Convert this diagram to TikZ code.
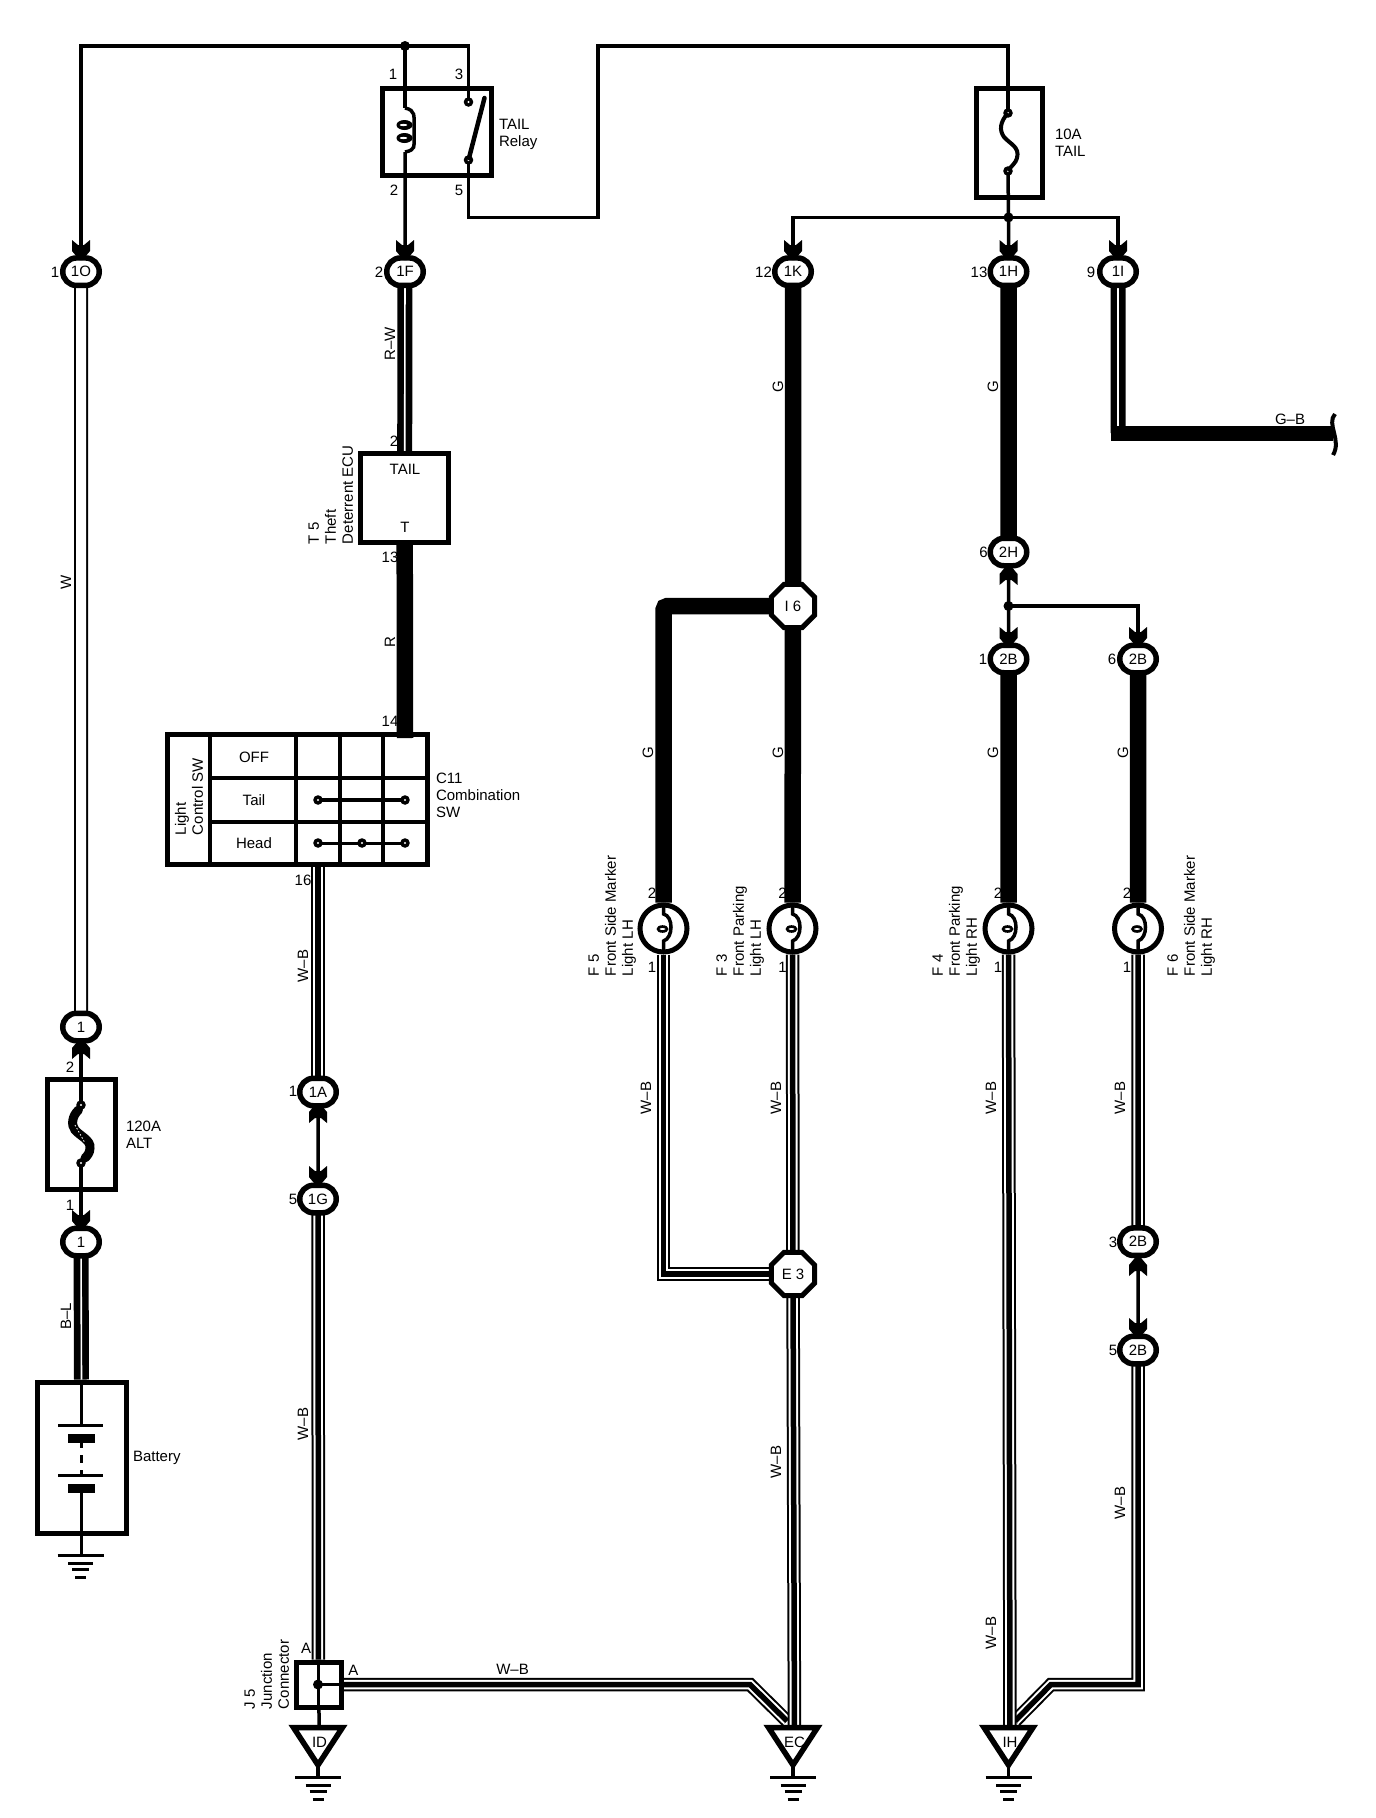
\documentclass[tikz,border=0pt]{standalone}
\usepackage{fontspec}
\setmainfont{Liberation Sans}
\usetikzlibrary{shapes.misc,shapes.geometric,backgrounds,calc}
\tikzset{
  txt/.style={inner sep=0pt,outer sep=0pt,font=\fontsize{15}{17}\selectfont},
  vlabel/.style={txt,rotate=90,align=left,anchor=south west},
  hlabel/.style={txt,align=left,anchor=west},
  ringc/.style={draw,fill=white,rounded rectangle,line width=5.5pt,minimum width=36.5pt,minimum height=27.5pt,inner sep=0pt,txt},
  octc/.style={draw,fill=white,regular polygon,regular polygon sides=8,line width=5pt,minimum size=47pt,inner sep=0pt,txt},
  lampc/.style={draw,fill=white,circle,line width=5pt,minimum size=47pt,inner sep=0pt},
  boxc/.style={draw,rectangle,line width=5pt,inner sep=0pt},
  thinw/.style={draw,line width=3.5pt},
  thinner/.style={draw,line width=3pt},
  gwire/.style={draw,line width=16.5pt},
  hollow/.style={draw,line width=14pt,postaction={draw,white,line width=10pt}},
  stripe/.style={draw,line width=15pt,postaction={draw,white,line width=1.6pt}},
  wbwire/.style={draw,line width=13.5pt,postaction={draw,white,line width=9.5pt},postaction={draw,black,line width=5.5pt}},
  cdown/.pic={\fill[black] (-9,0)--(-3,5)--(3,5)--(9,0)--(9,11)--(1.5,20)--(-1.5,20)--(-9,11)--cycle;},
  cup/.pic={\fill[black] (-9,0)--(-3,-5)--(3,-5)--(9,0)--(9,-11)--(1.5,-20)--(-1.5,-20)--(-9,-11)--cycle;},
}
% terminal dot with small white centre
\newcommand{\termdot}[2]{\fill (#1,#2) circle (4.8pt);\fill[white] (#1,#2) circle (1.2pt);}
% earth symbol lines below a given stem
\newcommand{\earthbars}[2]{%
  \draw[line width=3pt] (#1-23,#2)--(#1+23,#2);
  \draw[line width=3pt] (#1-12.5,#2+7.5)--(#1+12.5,#2+7.5);
  \draw[line width=3pt] (#1-8.5,#2+14)--(#1+8.5,#2+14);
  \draw[line width=3pt] (#1-5.5,#2+21.5)--(#1+5.5,#2+21.5);}
% triangular ground point
\newcommand{\groundpt}[3]{%
  \draw[line width=3.5pt] (#1,1764)--(#1,1777.7);
  \draw[fill=white,line width=5.5pt,line join=miter] (#1-24.5,1727.5)--(#1+24.5,1727.5)--(#1,1765)--cycle;
  \node[txt] (g#2) at (#1+1.5,1742) {#3};
  \earthbars{#1}{1777.7}}
% lamp
\newcommand{\lampsym}[2]{%
  \node[lampc] (#2) at (#1,928.5) {};
  \draw[line width=3.5pt] (#1,907)--(#1,914) .. controls (#1+10,916) and (#1+10,938) .. (#1,941)--(#1,950);
  \fill (#1-1,929) ellipse (6pt and 3.8pt);
  \fill[white] (#1-1,929) ellipse (3pt and 0.9pt);}
\begin{document}
\begin{tikzpicture}[x=1pt,y=-1pt,line cap=butt,line join=miter]
\useasboundingbox (0,0) rectangle (1376,1818);

% ===== connectors (rings) =====
\node[ringc] (c1O) at (81,271.7) {1O};
\node[ringc] (c1F) at (405,271.7) {1F};
\node[ringc] (c1K) at (793,271.7) {1K};
\node[ringc] (c1H) at (1008.5,271.7) {1H};
\node[ringc] (c1I) at (1118,271.7) {1I};
\node[ringc] (c2H) at (1008.5,552) {2H};
\node[ringc] (c2Ba) at (1008.5,659) {2B};
\node[ringc] (c2Bb) at (1138,659) {2B};
\node[ringc] (c2Bc) at (1138,1241.7) {2B};
\node[ringc] (c2Bd) at (1138,1350) {2B};
\node[ringc] (c1A) at (318,1092) {1A};
\node[ringc] (c1G) at (318,1199) {1G};
\node[ringc] (cAa) at (81,1027) {1};
\node[ringc] (cAb) at (81,1242) {1};
\node[octc] (I6) at (793,606) {I 6};
\node[octc] (E3) at (793,1274) {E 3};

% ===== connector tips =====
\pic at (81,240) {cdown};
\pic at (405,240) {cdown};
\pic at (793,240) {cdown};
\pic at (1008.5,240) {cdown};
\pic at (1118,240) {cdown};
\pic at (1008.5,585) {cup};
\pic at (1008.5,627) {cdown};
\pic at (1138,627) {cdown};
\pic at (1138,1276) {cup};
\pic at (1138,1318) {cdown};
\pic at (318,1123) {cup};
\pic at (318,1166) {cdown};
\pic at (81,1059) {cup};
\pic at (81,1210) {cdown};

% ===== relay =====
\node[boxc,minimum width=109pt,minimum height=87pt] (relay) at (437,131.5) {};
\coordinate (coilT) at (405,108);
\coordinate (coilB) at (405,152);
\coordinate (t3) at (468.5,102);
\coordinate (t5) at (468.5,160);
\draw[line width=3.5pt] (coilT) .. controls (416,110) and (414,118) .. (414,122) -- (414,138) .. controls (414,146) and (416,150) .. (coilB);
\fill (404.5,125) ellipse (8pt and 5pt); \fill[white] (403.5,125) ellipse (3.8pt and 1.1pt);
\fill (404.5,138) ellipse (8pt and 5pt); \fill[white] (403.5,138) ellipse (3.8pt and 1.1pt);
\termdot{468.5}{102}
\termdot{468.5}{160}
\draw[line width=4.5pt,line cap=round] (484.5,98)--(469,158);

% ===== 10A fuse =====
\node[boxc,minimum width=65.6pt,minimum height=109pt] (fuseT) at (1009.2,142.5) {};
\coordinate (ftT) at (1008,113);
\coordinate (ftB) at (1008,171);
\termdot{1008}{113}
\termdot{1008}{171}
\draw[line width=4pt] (ftT) .. controls (1000,122) and (999,130) .. (1004,137) .. controls (1010,144) and (1020,147) .. (1017,158) .. controls (1016,163) and (1011,166) .. (ftB);

% ===== 120A fuse =====
\node[boxc,minimum width=68pt,minimum height=110pt] (fuseA) at (81,1134) {};
\coordinate (faT) at (81,1105);
\coordinate (faB) at (81,1163);
\termdot{81}{1105}
\termdot{81}{1163}
\draw[line width=9pt,line cap=round] (78.5,1110) .. controls (72,1116) and (71,1125) .. (75,1130) .. controls (80,1136) and (91,1140) .. (90,1148) .. controls (90,1153) and (87,1156) .. (85,1158);
\draw[white,line width=0.8pt,dash pattern=on 1.5pt off 2pt] (75,1125)--(85,1143);

% ===== battery =====
\node[boxc,minimum width=89pt,minimum height=151pt] (batt) at (81.5,1457.5) {};
\coordinate (bt1) at (81,1425.6);
\coordinate (bt2) at (81,1488.7);
\draw[line width=3pt] (58,1425.6)--(103,1425.6);
\draw[line width=3pt] (58,1475.7)--(103,1475.7);
\fill (68,1434) rectangle (95,1443);
\fill (68,1484) rectangle (95,1493);
\draw[line width=3pt] (81,1443)--(81,1448);
\draw[line width=3pt] (81,1455)--(81,1463);
\draw[line width=3pt] (81,1470)--(81,1475.7);
\draw[line width=3pt] (bt2)--(81,1555.7);
\draw[line width=3pt] (81,1382)--(bt1);
\earthbars{80.5}{1555.7}

% ===== T5 ECU =====
\node[boxc,fill=white,minimum width=88pt,minimum height=89pt] (T5) at (404.7,498) {};
\node[txt] (T5a) at (405,469) {TAIL};
\node[txt] (T5b) at (405,527) {T};

% ===== C11 combination switch =====
\node[boxc,minimum width=260pt,minimum height=130pt] (C11) at (297,799) {};
\draw[line width=4pt] (210,736)--(210,862);
\draw[line width=4pt] (296,736)--(296,862);
\draw[line width=4pt] (340,736)--(340,862);
\draw[line width=4pt] (383,736)--(383,862);
\draw[line width=4pt] (210,777.7)--(425,777.7) (210,821.7)--(425,821.7);
\node[txt] (nOff) at (254,757) {OFF};
\node[txt] (nTail) at (254,800) {Tail};
\node[txt] (nHead) at (254,843) {Head};
\node[vlabel] (nLC) at (203,835) {Light\\Control SW};
\coordinate (s1a) at (318,800); \coordinate (s1b) at (405,800);
\coordinate (s2a) at (318,843); \coordinate (s2b) at (362,843); \coordinate (s2c) at (405,843);
\draw[line width=3.7pt] (s1a)--(s1b);
\draw[line width=3pt] (s2a)--(s2c);
\termdot{318}{800}\termdot{405}{800}
\termdot{318}{843}\termdot{362}{843}\termdot{405}{843}

% ===== J5 =====
\node[boxc,fill=white,line width=5pt,minimum width=45pt,minimum height=45pt] (J5) at (318.5,1684.5) {};
\draw[line width=3pt] (318,1664)--(318,1705);
\draw[line width=3pt] (318,1684.5)--(339,1684.5);
\fill (318,1684.5) circle (5pt);

% ===== grounds =====
\groundpt{318}{ID}{ID}
\groundpt{793}{EC}{EC}
\groundpt{1008.5}{IH}{IH}

% ===== lamps =====
\lampsym{663.5}{F5}
\lampsym{792.5}{F3}
\lampsym{1008.5}{F4}
\lampsym{1138}{F6}

% ===== splice dots =====
\fill (405,46) circle (5pt);
\fill (1008.5,217.4) circle (5pt);
\fill (1008.5,606) circle (5pt);

% ===== free coordinates =====
\coordinate (top) at (405,46);
\coordinate (spT) at (1008.5,217.4);
\coordinate (spH) at (1008.5,606);
\coordinate (bentF5) at (663.5,606);
\coordinate (gbCorner) at (1118,433);
\coordinate (gbEnd) at (1333,433);
\coordinate (cornerA) at (750,1684.5);
\coordinate (endA) at (787,1721);
\coordinate (cornerB) at (1051,1684.5);
\coordinate (endB) at (1015,1721);
\coordinate (relR) at (598,217.4);
\coordinate (relU) at (598,46);
\coordinate (c14) at (405,738);
\coordinate (c16) at (318,864);

% G-B end mark
\draw[line width=4pt] (1335,414) .. controls (1326,424) and (1342,440) .. (1333,455);

% ===== wires, under everything =====
\begin{scope}[on background layer]
\fill[white] (0,0) rectangle (1376,1818);
% thin
\path[thinw] (top) -| (c1O);
\path[thinw] (top) -| (t3);
\path[thinw] (top) -- (coilT);
\path[thinw] (coilB) -- (c1F);
\path[thinw] (t5) |- (relR) -- (relU) -| (ftT);
\path[thinw] (ftB) -- (spT) -- (c1H);
\path[thinw] (spT) -| (c1K);
\path[thinw] (spT) -| (c1I);
\path[thinw] (c2H) -- (c2Ba);
\path[thinw] (spH) -| (c2Bb);
\path[thinw] (c2Bc) -- (c2Bd);
\path[thinw] (c1A) -- (c1G);
\path[thinw] (cAa) -- (faT);
\path[thinw] (faB) -- (cAb);
\path[thinw] (J5) -- (gID);
% R-W, B-L, G-B
\path[stripe] (c1F) -- (T5.north);
\path[stripe] (cAb) -- (batt.north);
\path[stripe] (c1I) -- (gbCorner);
\path[draw,line width=15pt] ([xshift=-7.5pt]gbCorner) -- (gbEnd);
% W
\path[hollow] (c1O) -- (cAa);
% G
\path[gwire] (T5.south) -- (c14);
\path[gwire] (c1K) -- (I6);
\path[gwire] (I6) -- (F3);
\path[gwire] (c1H) -- (c2H);
\path[gwire] (c2Ba) -- (F4);
\path[gwire] (c2Bb) -- (F6);
\path[gwire,rounded corners=4pt] (I6) -- (bentF5) -- (F5);
% W-B
\path[wbwire] (c16) -- (c1A);
\path[wbwire] (c1G) -- (J5);
\path[wbwire] (F5) |- (E3);
\path[wbwire] (F3) -- (E3);
\path[wbwire] (J5) -- (cornerA) -- (endA);
\path[wbwire] (E3) -- (gEC);
\path[wbwire] (F6) -- (c2Bc);
\path[wbwire] (c2Bd) |- (cornerB) -- (endB);
\path[wbwire] (F4) -- (gIH);
\end{scope}

% ===== pin numbers =====
\node[txt] (p1) at (393,74) {1};
\node[txt] (p3) at (459,74) {3};
\node[txt] (p2) at (394,190.6) {2};
\node[txt] (p5) at (459,190.6) {5};
\node[txt] (p6) at (55,272) {1};
\node[txt] (p7) at (379,272) {2};
\node[txt] (p8) at (763.5,272) {12};
\node[txt] (p9) at (979,272) {13};
\node[txt] (p10) at (1091,272) {9};
\node[txt] (p11) at (394,441) {2};
\node[txt] (p12) at (390,557) {13};
\node[txt] (p13) at (390,721) {14};
\node[txt] (p14) at (303,880) {16};
\node[txt] (p15) at (983.5,552) {6};
\node[txt] (p16) at (983,659) {1};
\node[txt] (p17) at (1112,659) {6};
\node[txt] (p18) at (652,893) {2};
\node[txt] (p19) at (782.5,893) {2};
\node[txt] (p20) at (998,893) {2};
\node[txt] (p21) at (1127,893) {2};
\node[txt] (p22) at (652,967) {1};
\node[txt] (p23) at (782.5,967) {1};
\node[txt] (p24) at (998,967) {1};
\node[txt] (p25) at (1127,967) {1};
\node[txt] (p26) at (1113,1242) {3};
\node[txt] (p27) at (1113,1350) {5};
\node[txt] (p28) at (293,1091) {1};
\node[txt] (p29) at (293,1199) {5};
\node[txt] (p30) at (70,1067) {2};
\node[txt] (p31) at (70,1205) {1};
\node[txt] (p32) at (306,1648) {A};
\node[txt] (p33) at (353.4,1670) {A};

% ===== wire colour labels =====
\node[txt,rotate=90] (w1) at (66,582) {W};
\node[txt,rotate=90] (w2) at (390,344) {R–W};
\node[txt,rotate=90] (w3) at (390,642) {R};
\node[txt,rotate=90] (w4) at (778,387) {G};
\node[txt,rotate=90] (w5) at (993,387) {G};
\node[txt] (w6) at (1290,419) {G–B};
\node[txt,rotate=90] (w7) at (648,753) {G};
\node[txt,rotate=90] (w8) at (778,753) {G};
\node[txt,rotate=90] (w9) at (993,753) {G};
\node[txt,rotate=90] (w10) at (1123,753) {G};
\node[txt,rotate=90] (w11) at (303,966) {W–B};
\node[txt,rotate=90] (w12) at (303,1424) {W–B};
\node[txt,rotate=90] (w13) at (646,1098) {W–B};
\node[txt,rotate=90] (w14) at (776,1098) {W–B};
\node[txt,rotate=90] (w15) at (991,1098) {W–B};
\node[txt,rotate=90] (w16) at (1120,1098) {W–B};
\node[txt,rotate=90] (w17) at (776,1462) {W–B};
\node[txt,rotate=90] (w18) at (1120,1503) {W–B};
\node[txt,rotate=90] (w19) at (991,1633) {W–B};
\node[txt] (w20) at (512.5,1669) {W–B};
\node[txt,rotate=90] (w21) at (66,1316) {B–L};

% ===== component labels =====
\node[hlabel] (lRelay) at (499,134) {TAIL\\Relay};
\node[hlabel] (lFuseT) at (1055,143) {10A\\TAIL};
\node[hlabel] (lFuseA) at (126,1135) {120A\\ALT};
\node[hlabel] (lBatt) at (133,1458) {Battery};
\node[hlabel] (lC11) at (436,795) {C11\\Combination\\SW};
\node[vlabel] (lT5) at (353,544) {T 5\\Theft\\Deterrent ECU};
\node[vlabel] (lF5) at (636,976) {F 5\\Front Side Marker\\Light LH};
\node[vlabel] (lF3) at (764,976) {F 3\\Front Parking\\Light LH};
\node[vlabel] (lF4) at (980,976) {F 4\\Front Parking\\Light RH};
\node[vlabel] (lF6) at (1215,976) {F 6\\Front Side Marker\\Light RH};
\node[vlabel] (lJ5) at (289,1709) {J 5\\Junction\\Connector};
\end{tikzpicture}
\end{document}
